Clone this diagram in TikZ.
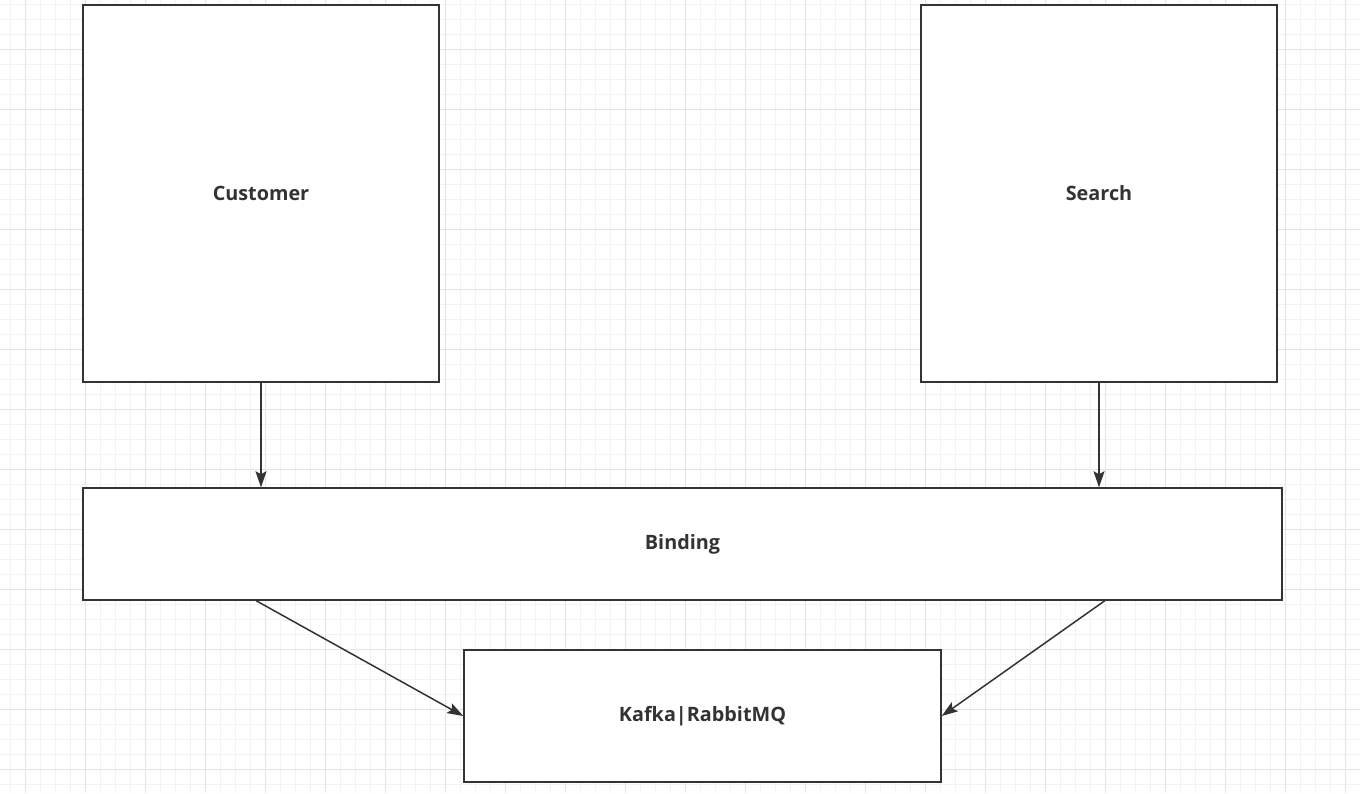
\documentclass[tikz,border=0pt]{standalone}
\usepackage{fontspec}
\setmainfont{Open Sans}
\usetikzlibrary{arrows.meta,calc}
\definecolor{ink}{HTML}{333333}
\definecolor{gminor}{HTML}{F2F2F2}
\definecolor{gmajor}{HTML}{E4E4E4}
\tikzset{
  box/.style={draw=ink, line width=1.5pt, fill=white, text=ink, font=\fontsize{19.8}{23}\selectfont\bfseries, inner sep=0pt},
  conn/.style={draw=ink, line width=1.5pt, -{Stealth[length=16pt,width=11pt,inset=3pt]}},
}
\begin{document}
\begin{tikzpicture}[x=1pt,y=-1pt]
\useasboundingbox (0,0) rectangle (1360,793);
\fill[white] (0,0) rectangle (1360,793);
\foreach \x in {10,25,...,1360} \draw[gminor, line width=0.7pt] (\x,0) -- (\x,793);
\foreach \y in {4,19,...,793} \draw[gminor, line width=0.7pt] (0,\y) -- (1360,\y);
\foreach \x in {25,85,...,1360} \draw[gmajor, line width=0.7pt] (\x,0) -- (\x,793);
\foreach \y in {49,109,...,793} \draw[gmajor, line width=0.7pt] (0,\y) -- (1360,\y);
\node[box, minimum width=356pt, minimum height=377pt] (cust) at (261,193.5) {Customer};
\node[box, minimum width=356pt, minimum height=377pt] (search) at (1099,193.5) {Search};
\node[box, minimum width=1199pt, minimum height=112pt] (bind) at (682.5,544) {Binding};
\node[box, minimum width=477pt, minimum height=132pt] (mq) at (702.5,716) {Kafka|RabbitMQ};
\draw[conn] (cust.south) -- (cust.south |- bind.north);
\draw[conn] (search.south) -- (search.south |- bind.north);
\draw[conn] ($(bind.south west)+(174,0)$) -- (mq.west);
\draw[conn] ($(bind.south east)+(-178,0)$) -- (mq.east);
\end{tikzpicture}
\end{document}
